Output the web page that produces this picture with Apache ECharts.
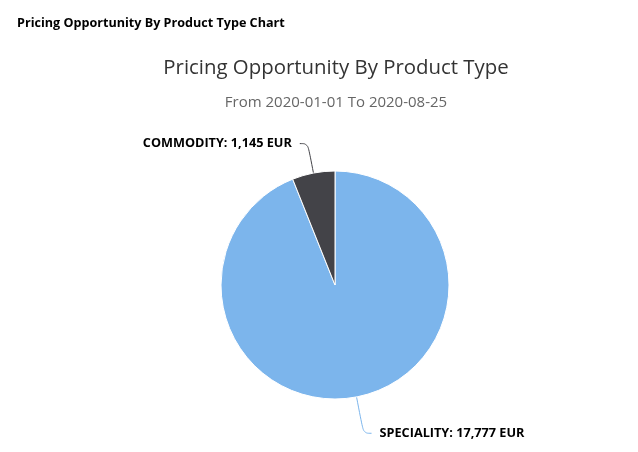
<!DOCTYPE html>
<html>
<head>
<meta charset="utf-8">
<script src="https://cdn.jsdelivr.net/npm/echarts@6/dist/echarts.min.js"></script>
<style>
  html, body { margin: 0; padding: 0; background: #fff; }
  #chart { width: 638px; height: 452px; }
</style>
</head>
<body>
<div id="chart"></div>
<script>
// values
const categories = ['SPECIALITY', 'COMMODITY'];
const amounts = [17777, 1145];
const sliceColors = ['#7cb5ec', '#434348'];
const connectorLengths = [37, 30];

const chart = echarts.init(document.getElementById('chart'));
const font = '"Open Sans", "Noto Sans", sans-serif';

const option = {
  animation: false,
  title: [
    {
      text: 'Pricing Opportunity By Product Type Chart',
      left: 12, top: 12,
      textStyle: { fontFamily: font, fontSize: 12.6, fontWeight: 'bold', color: '#000' }
    },
    {
      text: 'Pricing Opportunity By Product Type',
      left: 331, top: 53, textAlign: 'center',
      textStyle: { fontFamily: font, fontSize: 20.4, fontWeight: 'normal', color: '#333' }
    },
    {
      text: 'From 2020-01-01 To 2020-08-25',
      left: 331, top: 90, textAlign: 'center',
      textStyle: { fontFamily: font, fontSize: 15, fontWeight: 'normal', color: '#666' }
    }
  ],
  series: [{
    type: 'pie',
    center: [335, 285],
    radius: 114,
    startAngle: 90,
    clockwise: true,
    itemStyle: { borderColor: '#fff', borderWidth: 1 },
    label: {
      fontFamily: font,
      fontSize: 12.7,
      fontWeight: 'bold',
      color: '#000',
      distanceToLabelLine: 8,
      formatter: p => p.name + ': ' + p.value.toLocaleString('en-US') + ' EUR'
    },
    labelLine: { length2: 8, smooth: 0.4 },
    data: categories.map((c, i) => ({
      name: c,
      value: amounts[i],
      itemStyle: { color: sliceColors[i] },
      labelLine: { length: connectorLengths[i], lineStyle: { color: sliceColors[i] } }
    }))
  }]
};
chart.setOption(option);
</script>
</body>
</html>
